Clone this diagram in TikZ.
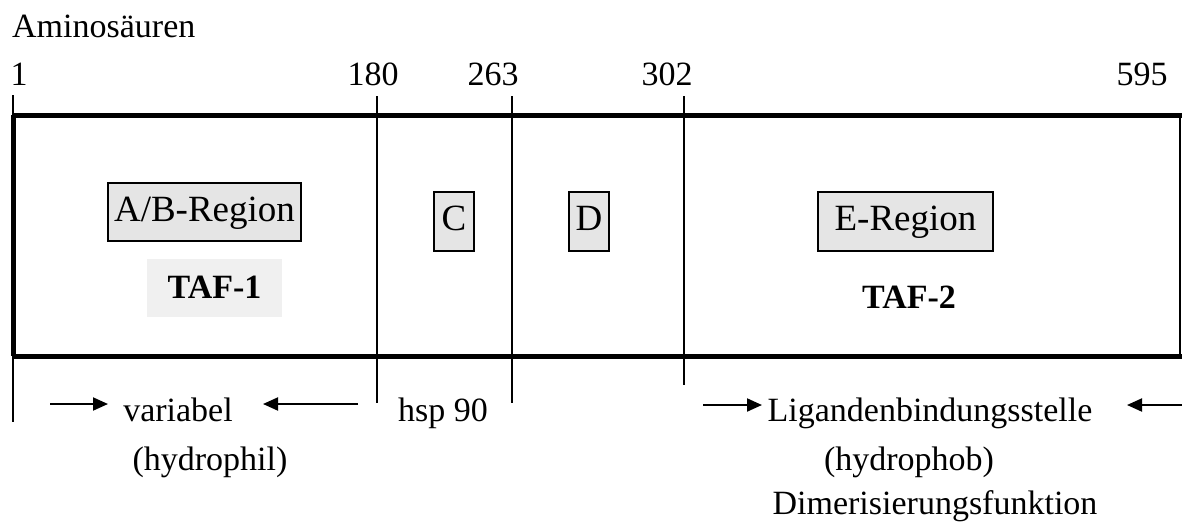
\documentclass[tikz,border=0pt]{standalone}
\usepackage{fontspec}
\setmainfont{Liberation Serif}
\usetikzlibrary{arrows.meta}
\begin{document}
\begin{tikzpicture}[x=1pt,y=-1pt,
  thickline/.style={line width=5pt},
  thinline/.style={line width=2pt},
  lbl/.style={font=\fontsize{34}{40}\selectfont, inner sep=0pt, anchor=base},
  regbox/.style={draw, line width=1.5pt, fill=black!10, font=\fontsize{37}{44}\selectfont,
                 inner sep=0pt, text height=26pt, text depth=8pt},
  tafbox/.style={fill=black!6, font=\bfseries\fontsize{34}{40}\selectfont,
                 inner sep=0pt, text height=24pt, text depth=4pt},
  tafplain/.style={font=\bfseries\fontsize{34}{40}\selectfont,
                 inner sep=0pt, text height=24pt, text depth=4pt},
  arr/.style={line width=2pt, -{Triangle[length=15pt,width=13pt]}}]
\useasboundingbox (0,0) rectangle (1182,523);

% frame coordinates
\coordinate (tl) at (13,115);
\coordinate (tr) at (1182,115);
\coordinate (bl) at (13,356);
\coordinate (br) at (1182,356);
\coordinate (rt) at (1180,115);
\coordinate (rb) at (1180,356);

% tick coordinates
\coordinate (t1a) at (13,95);    \coordinate (t1b) at (13,422);
\coordinate (t180a) at (377,96); \coordinate (t180b) at (377,403);
\coordinate (t263a) at (512,96); \coordinate (t263b) at (512,403);
\coordinate (t302a) at (684,96); \coordinate (t302b) at (684,385);

% ticks
\draw[thinline] (t1a) -- (t1b);
\draw[thinline] (t180a) -- (t180b);
\draw[thinline] (t263a) -- (t263b);
\draw[thinline] (t302a) -- (t302b);
\draw[thinline] (rt) -- (rb);

% frame
\draw[thickline] (tl) -- (tr);
\draw[thickline] (bl) -- (br);
\draw[thickline] (tl) -- (bl);

% header
\node[lbl, anchor=base west] (amino) at (12,37) {Aminosäuren};
\node[lbl] (n1) at (19,85) {1};
\node[lbl] (n180) at (373,85) {180};
\node[lbl] (n263) at (493,85) {263};
\node[lbl] (n302) at (667,85) {302};
\node[lbl] (n595) at (1142,85) {595};

% regions
\node[regbox, minimum width=193pt, minimum height=58pt] (ab) at (204.5,212) {A/B-Region};
\node[tafbox, minimum width=135pt, minimum height=58pt] (taf1) at (214.5,288) {TAF-1};
\node[regbox, minimum width=40pt, minimum height=59pt] (c) at (454,221.5) {C};
\node[regbox, minimum width=40pt, minimum height=59pt] (d) at (589,221.5) {D};
\node[regbox, minimum width=175pt, minimum height=59pt] (e) at (905.5,221.5) {E-Region};
\node[tafplain] (taf2) at (909,298) {TAF-2};

% lower labels
\node[lbl] (var) at (178,421) {variabel};
\node[lbl] (hphil) at (210,470) {(hydrophil)};
\node[lbl] (hsp) at (443,421) {hsp 90};
\node[lbl] (lig) at (930,421) {Ligandenbindungsstelle};
\node[lbl] (hphob) at (909,470) {(hydrophob)};
\node[lbl] (dim) at (935,514) {Dimerisierungsfunktion};

% arrows
\coordinate (a1s) at (50,404);   \coordinate (a1e) at (108,404);
\coordinate (a2s) at (358,404);  \coordinate (a2e) at (263,404);
\coordinate (a3s) at (703,405);  \coordinate (a3e) at (762,405);
\coordinate (a4s) at (1182,405); \coordinate (a4e) at (1127,405);
\draw[arr] (a1s) -- (a1e);
\draw[arr] (a2s) -- (a2e);
\draw[arr] (a3s) -- (a3e);
\draw[arr] (a4s) -- (a4e);
\end{tikzpicture}
\end{document}
